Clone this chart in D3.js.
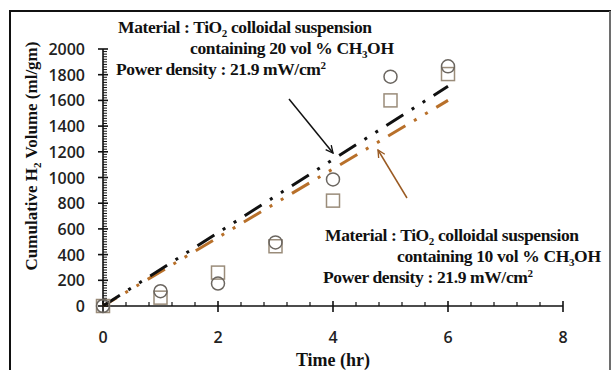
<!DOCTYPE html>
<html>
<head>
<meta charset="utf-8">
<script src="https://cdn.jsdelivr.net/npm/d3@7"></script>
<style>
  body { margin: 0; background: #fff; }
  .tick-label { font-family: "Open Sans", sans-serif; font-weight: 600; font-size: 16px; fill: #222; }
  .serif { font-family: "Liberation Serif", "Times New Roman", serif; font-weight: bold; fill: #111; }
</style>
</head>
<body>
<div id="chart"></div>
<script>
// --- data ---
const hours = [0, 1, 2, 3, 4, 5, 6];
const circleVol = [0, 115, 175, 495, 985, 1785, 1865];
const squareVol = [0, 65, 260, 465, 820, 1600, 1805];
const fitHours = [0, 6];
const fit20 = [0, 1710];   // black line
const fit10 = [0, 1600];   // orange line
const xTicks = [0, 2, 4, 6, 8];
const yTicks = [0, 200, 400, 600, 800, 1000, 1200, 1400, 1600, 1800, 2000];

const width = 613, height = 370;

const svg = d3.select("#chart").append("svg")
  .attr("width", width)
  .attr("height", height);

// frame
svg.append("rect")
  .attr("x", 10).attr("y", 11)
  .attr("width", 600).attr("height", 380)
  .attr("fill", "none").attr("stroke", "#111").attr("stroke-width", 2);
svg.append("line")
  .attr("x1", 610).attr("x2", 610).attr("y1", 11).attr("y2", 370)
  .attr("stroke", "#ccc").attr("stroke-width", 1);

// --- scales ---
const x = d3.scaleLinear().domain([0, 8]).range([103, 563]);
const y = d3.scaleLinear().domain([0, 2000]).range([306, 49]);

// --- axes ---
const axisG = svg.append("g").attr("stroke", "#111");

// x axis line
axisG.append("line")
  .attr("x1", x(0)).attr("x2", x(8))
  .attr("y1", y(0)).attr("y2", y(0))
  .attr("stroke-width", 1.6);
// x minor ticks (every 0.4)
axisG.selectAll(".xminor")
  .data(d3.range(0, 8.001, 0.4).filter(d => Math.abs(d / 2 - Math.round(d / 2)) > 1e-6))
  .join("line")
  .attr("x1", d => x(d)).attr("x2", d => x(d))
  .attr("y1", y(0) - 4).attr("y2", y(0))
  .attr("stroke-width", 1.2);
// x major ticks
axisG.selectAll(".xmajor")
  .data(xTicks)
  .join("line")
  .attr("x1", d => x(d)).attr("x2", d => x(d))
  .attr("y1", y(0) - 5).attr("y2", y(0) + 6)
  .attr("stroke-width", 1.6);

// y axis line
axisG.append("line")
  .attr("x1", x(0)).attr("x2", x(0))
  .attr("y1", y(0)).attr("y2", y(2000))
  .attr("stroke-width", 1.6);
// y minor ticks (every 20)
axisG.selectAll(".yminor")
  .data(d3.range(0, 2001, 20).filter(d => d % 200 !== 0))
  .join("line")
  .attr("x1", x(0)).attr("x2", x(0) + 4)
  .attr("y1", d => y(d)).attr("y2", d => y(d))
  .attr("stroke-width", 1);
// y major ticks
axisG.selectAll(".ymajor")
  .data(yTicks)
  .join("line")
  .attr("x1", x(0) - 5).attr("x2", x(0) + 5)
  .attr("y1", d => y(d)).attr("y2", d => y(d))
  .attr("stroke-width", 1.6);

// tick labels
svg.selectAll(".ylab")
  .data(yTicks)
  .join("text")
  .attr("class", "tick-label")
  .attr("x", 85)
  .attr("y", d => y(d) + 6)
  .attr("text-anchor", "end")
  .text(d => d);

svg.selectAll(".xlab")
  .data(xTicks)
  .join("text")
  .attr("class", "tick-label")
  .attr("x", d => x(d))
  .attr("y", 343)
  .attr("text-anchor", "middle")
  .text(d => d);

// axis titles
const yTitle = svg.append("text")
  .attr("class", "serif")
  .attr("font-size", 17)
  .attr("text-anchor", "middle")
  .attr("transform", "translate(37,156) rotate(-90)");
yTitle.append("tspan").text("Cumulative H");
yTitle.append("tspan").attr("font-size", 11).attr("dy", 4).text("2");
yTitle.append("tspan").attr("dy", -4).text(" Volume (ml/gm)");

svg.append("text")
  .attr("class", "serif")
  .attr("font-size", 18)
  .attr("x", 333).attr("y", 366)
  .attr("text-anchor", "middle")
  .text("Time (hr)");

// --- fit lines ---
const line = d3.line().x(d => x(d[0])).y(d => y(d[1]));
const dash = "20,10,3,10,3,10";

svg.append("path")
  .datum(d3.zip(fitHours, fit10))
  .attr("d", line)
  .attr("fill", "none")
  .attr("stroke", "#b8702a")
  .attr("stroke-width", 3)
  .attr("stroke-dasharray", dash)
  .attr("stroke-dashoffset", 4);

svg.append("path")
  .datum(d3.zip(fitHours, fit20))
  .attr("d", line)
  .attr("fill", "none")
  .attr("stroke", "#111")
  .attr("stroke-width", 3)
  .attr("stroke-dasharray", dash);

// --- markers ---
const pts = d3.zip(hours, circleVol, squareVol);
svg.selectAll(".sq")
  .data(pts)
  .join("rect")
  .attr("x", d => x(d[0]) - 6.5)
  .attr("y", d => y(d[2]) - 6.5)
  .attr("width", 13).attr("height", 13)
  .attr("fill", "none")
  .attr("stroke", "#9a8c7a")
  .attr("stroke-width", 1.5);

svg.selectAll(".ci")
  .data(pts)
  .join("circle")
  .attr("cx", d => x(d[0]))
  .attr("cy", d => y(d[1]))
  .attr("r", 6.5)
  .attr("fill", "none")
  .attr("stroke", "#6b6660")
  .attr("stroke-width", 1.5);

// --- arrows ---
const defs = svg.append("defs");
function arrowMarker(id, color) {
  defs.append("marker")
    .attr("id", id)
    .attr("viewBox", "0 0 10 10")
    .attr("refX", 9).attr("refY", 5)
    .attr("markerWidth", 9).attr("markerHeight", 9)
    .attr("markerUnits", "userSpaceOnUse")
    .attr("orient", "auto")
    .append("path")
    .attr("d", "M1,1 L9,5 L1,9")
    .attr("fill", "none")
    .attr("stroke", color)
    .attr("stroke-width", 1.5);
}
arrowMarker("arrBlack", "#111");
arrowMarker("arrOrange", "#9a5a22");

svg.append("line")
  .attr("x1", 289).attr("y1", 99).attr("x2", 333).attr("y2", 153)
  .attr("stroke", "#111").attr("stroke-width", 1.5)
  .attr("marker-end", "url(#arrBlack)");
svg.append("line")
  .attr("x1", 407).attr("y1", 198).attr("x2", 378).attr("y2", 150)
  .attr("stroke", "#9a5a22").attr("stroke-width", 1.5)
  .attr("marker-end", "url(#arrOrange)");

// --- annotations ---
function annotate(x0, yBase, vol) {
  const g = svg.append("g").attr("class", "serif").attr("font-size", 17.5);
  const t1 = g.append("text").attr("x", x0).attr("y", yBase)
    .attr("textLength", 254).attr("lengthAdjust", "spacing");
  t1.append("tspan").text("Material : TiO");
  t1.append("tspan").attr("font-size", 11).attr("dy", 4).text("2");
  t1.append("tspan").attr("dy", -4).text(" colloidal suspension");

  const t2 = g.append("text").attr("x", x0 + 72).attr("y", yBase + 21)
    .attr("textLength", 204).attr("lengthAdjust", "spacing");
  t2.append("tspan").text(`containing ${vol} vol % CH`);
  t2.append("tspan").attr("font-size", 11).attr("dy", 4).text("3");
  t2.append("tspan").attr("dy", -4).text("OH");

  const t3 = g.append("text").attr("x", x0 - 2).attr("y", yBase + 42)
    .attr("textLength", 210).attr("lengthAdjust", "spacing");
  t3.append("tspan").text("Power density : 21.9 mW/cm");
  t3.append("tspan").attr("font-size", 11).attr("dy", -6).text("2");
}
annotate(118, 33, 20);
annotate(325, 241, 10);
</script>
</body>
</html>
